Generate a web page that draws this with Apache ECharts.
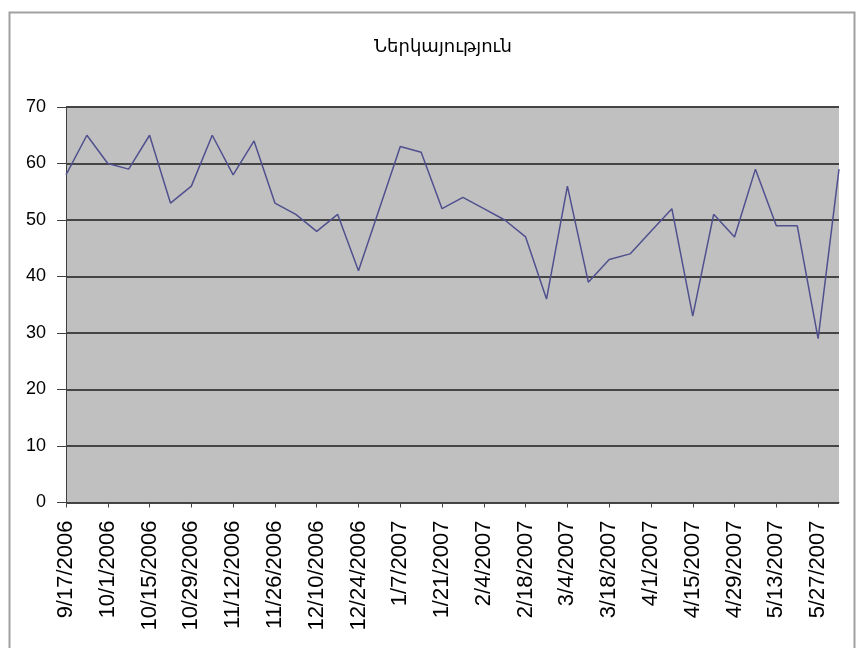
<!DOCTYPE html>
<html>
<head>
<meta charset="utf-8">
<script src="https://cdn.jsdelivr.net/npm/echarts@6/dist/echarts.min.js"></script>
<style>html,body{margin:0;padding:0;background:#fff;}#c{width:858px;height:648px;}</style>
</head>
<body>
<div id="c"></div>
<script>
var titleText = 'Ներկայություն';
var dates = ['9/17/2006','9/24/2006','10/1/2006','10/8/2006','10/15/2006','10/22/2006','10/29/2006','11/5/2006','11/12/2006','11/19/2006','11/26/2006','12/3/2006','12/10/2006','12/17/2006','12/24/2006','12/31/2006','1/7/2007','1/14/2007','1/21/2007','1/28/2007','2/4/2007','2/11/2007','2/18/2007','2/25/2007','3/4/2007','3/11/2007','3/18/2007','3/25/2007','4/1/2007','4/8/2007','4/15/2007','4/22/2007','4/29/2007','5/6/2007','5/13/2007','5/20/2007','5/27/2007','6/3/2007'];
var attendance = [58,65,60,59,65,53,56,65,58,64,53,51,48,51,41,52,63,62,52,54,52,50,47,36,56,39,43,44,48,52,33,51,47,59,49,49,29,59];
var yMin = 0, yMax = 70, yStep = 10;

var chart = echarts.init(document.getElementById('c'), null, {renderer: 'canvas'});
chart.setOption({
  animation: false,
  backgroundColor: '#fff',
  graphic: [{
    type: 'rect', left: 7, top: 10, z: -10,
    shape: {x: 0, y: 0, width: 845, height: 660},
    style: {fill: 'none', stroke: '#a0a0a0', lineWidth: 2}
  }],
  title: {
    text: titleText, left: 369, top: 33,
    textStyle: {fontFamily: 'DejaVu Sans', fontSize: 18, fontWeight: 'normal', color: '#000'}
  },
  grid: {left: 66, right: 19, top: 107, bottom: 145.5, show: true, backgroundColor: '#c0c0c0', borderWidth: 0},
  xAxis: {
    type: 'category', data: dates, boundaryGap: false,
    axisLine: {show: true, lineStyle: {color: '#404040', width: 1}},
    axisTick: {show: true, interval: 1, length: 5, lineStyle: {color: '#404040'}},
    axisLabel: {interval: 1, rotate: 90, margin: 18, color: '#000', fontFamily: 'Liberation Sans', fontSize: 22},
    splitLine: {show: false}
  },
  yAxis: {
    type: 'value', min: yMin, max: yMax, interval: yStep,
    axisLine: {show: true, lineStyle: {color: '#404040', width: 1}},
    axisTick: {show: true, length: 9, lineStyle: {color: '#404040'}},
    axisLabel: {margin: 20, color: '#000', fontFamily: 'Liberation Sans', fontSize: 18},
    splitLine: {show: true, lineStyle: {color: '#454545', width: 1.8}}
  },
  series: [{
    type: 'line', data: attendance, symbol: 'none',
    lineStyle: {color: '#50508f', width: 1.5}
  }]
});
</script>
</body>
</html>
